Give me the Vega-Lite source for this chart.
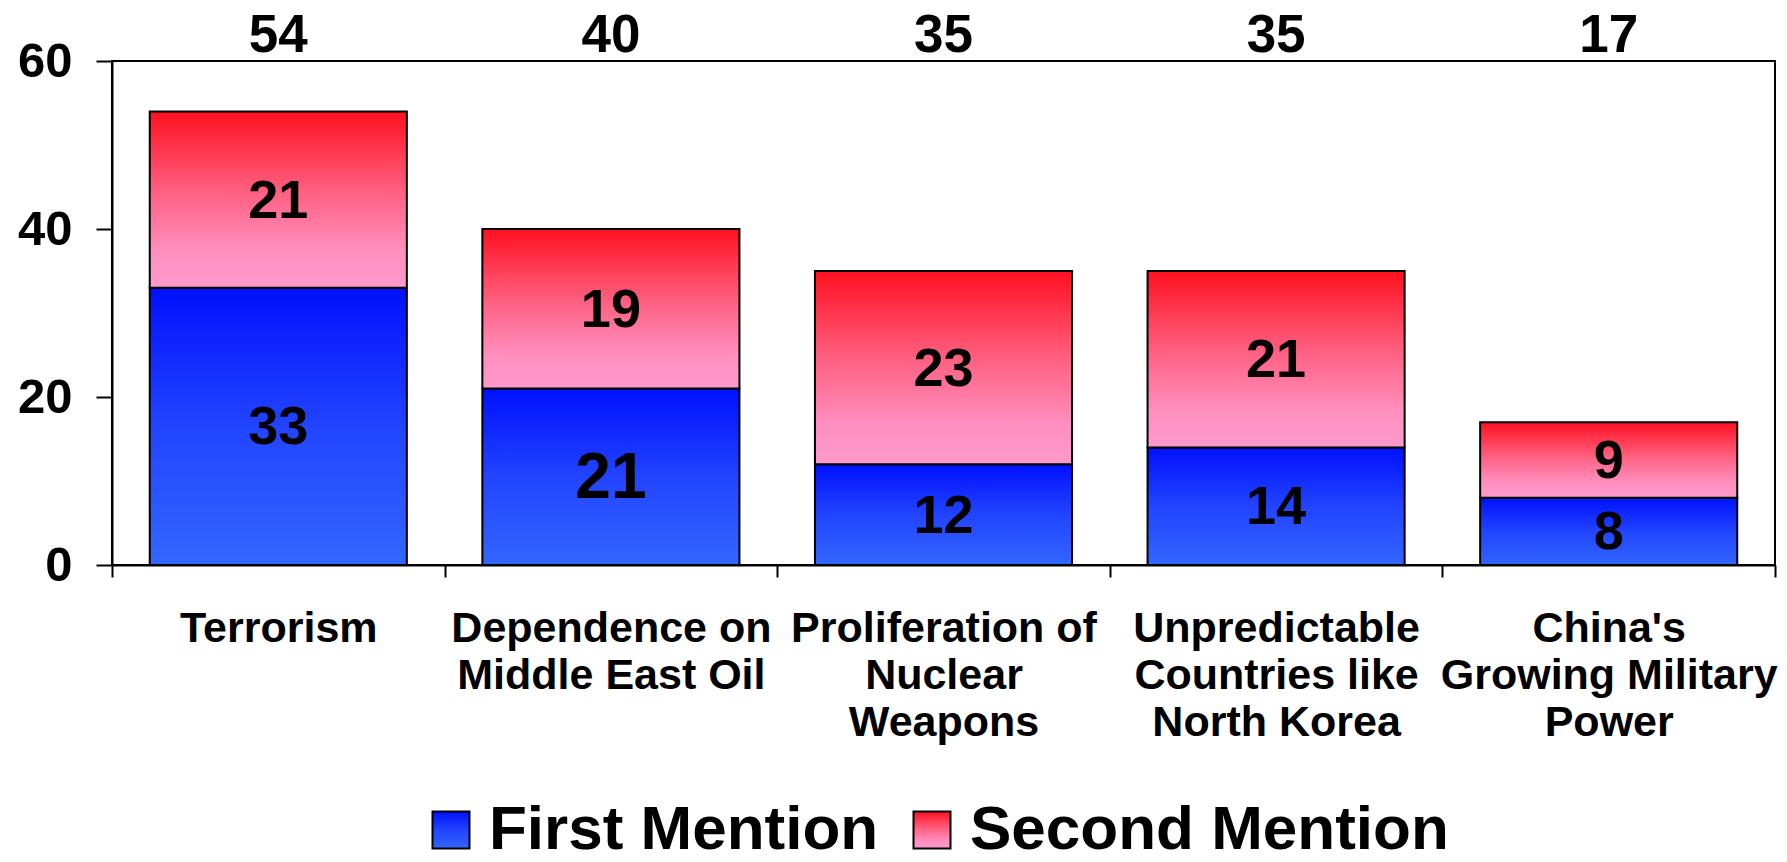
{
  "$schema": "https://vega.github.io/schema/vega-lite/v6.json",
  "autosize": "none",
  "width": 1663,
  "height": 504,
  "padding": {"left": 112, "top": 61, "right": 12, "bottom": 297},
  "background": "white",
  "config": {
    "font": "Liberation Sans",
    "view": {"stroke": "black", "strokeWidth": 2},
    "axis": {"grid": false, "domainColor": "black", "domainWidth": 2, "tickColor": "black", "tickWidth": 2, "labelColor": "black", "labelFontWeight": "bold", "labelFont": "Liberation Sans"}
  },
  "data": {
    "values": [
      {"category": "Terrorism", "series": "First Mention", "value": 33},
      {"category": "Terrorism", "series": "Second Mention", "value": 21},
      {"category": "Dependence on|Middle East Oil", "series": "First Mention", "value": 21},
      {"category": "Dependence on|Middle East Oil", "series": "Second Mention", "value": 19},
      {"category": "Proliferation of|Nuclear|Weapons", "series": "First Mention", "value": 12},
      {"category": "Proliferation of|Nuclear|Weapons", "series": "Second Mention", "value": 23},
      {"category": "Unpredictable|Countries like|North Korea", "series": "First Mention", "value": 14},
      {"category": "Unpredictable|Countries like|North Korea", "series": "Second Mention", "value": 21},
      {"category": "China's|Growing Military|Power", "series": "First Mention", "value": 8},
      {"category": "China's|Growing Military|Power", "series": "Second Mention", "value": 9}
    ]
  },
  "encoding": {
    "x": {
      "field": "category",
      "type": "nominal",
      "sort": null,
      "scale": {"paddingInner": 0, "paddingOuter": 0},
      "axis": {
        "title": null,
        "labelAngle": 0,
        "labelExpr": "split(datum.label, '|')",
        "labelFontSize": 43,
        "labelLineHeight": 47,
        "labelPadding": 30,
        "tickSize": 12,
        "tickBand": "extent",
        "labelLimit": 400
      }
    }
  },
  "layer": [
    {
      "mark": {"type": "bar", "stroke": "black", "strokeWidth": 2, "width": {"band": 0.773}},
      "encoding": {
        "y": {
          "field": "value",
          "type": "quantitative",
          "stack": "zero",
          "scale": {"domain": [0, 60], "nice": false},
          "axis": {"title": null, "values": [0, 20, 40, 60], "labelFontSize": 49, "tickSize": 16, "labelPadding": 24}
        },
        "order": {"field": "series"},
        "color": {
          "field": "series",
          "type": "nominal",
          "scale": {
            "domain": ["First Mention", "Second Mention"],
            "range": [
              {"expr": "{gradient: 'linear', x1: 0, y1: 0, x2: 0, y2: 1, stops: [{offset: 0, color: '#0010ff'}, {offset: 0.5, color: '#2244ff'}, {offset: 1, color: '#3366ff'}]}"},
              {"expr": "{gradient: 'linear', x1: 0, y1: 0, x2: 0, y2: 1, stops: [{offset: 0, color: '#ff1020'}, {offset: 0.45, color: '#ff5f80'}, {offset: 0.8, color: '#ff90c0'}, {offset: 1, color: '#ff99cc'}]}"}
            ]
          },
          "legend": {
            "title": null,
            "orient": "none",
            "direction": "horizontal",
            "legendX": 308,
            "legendY": 738,
            "symbolType": "square",
            "symbolSize": 1369,
            "symbolStrokeWidth": 2,
            "symbolStrokeColor": "black",
            "symbolOpacity": 1,
            "labelFontSize": 62,
            "labelFontWeight": "bold",
            "labelColor": "black",
            "labelOffset": 7,
            "columnPadding": 22,
            "labelLimit": 600
          }
        }
      }
    },
    {
      "mark": {"type": "text", "fontSize": 54, "fontWeight": "bold", "baseline": "middle", "dy": 2, "color": "black"},
      "encoding": {
        "y": {"field": "value", "type": "quantitative", "stack": "zero", "bandPosition": 0.5},
        "order": {"field": "series"},
        "detail": {"field": "series"},
        "text": {"field": "value", "type": "quantitative"},
        "size": {
          "condition": {"test": "datum.category === 'Dependence on|Middle East Oil' && datum.series === 'First Mention'", "value": 64},
          "value": 54
        }
      }
    },
    {
      "transform": [{"aggregate": [{"op": "sum", "field": "value", "as": "total"}], "groupby": ["category"]}],
      "mark": {"type": "text", "fontSize": 53, "fontWeight": "bold", "baseline": "alphabetic", "dy": -9, "color": "black"},
      "encoding": {
        "y": {"datum": 60, "type": "quantitative"},
        "text": {"field": "total", "type": "quantitative"}
      }
    }
  ]
}
